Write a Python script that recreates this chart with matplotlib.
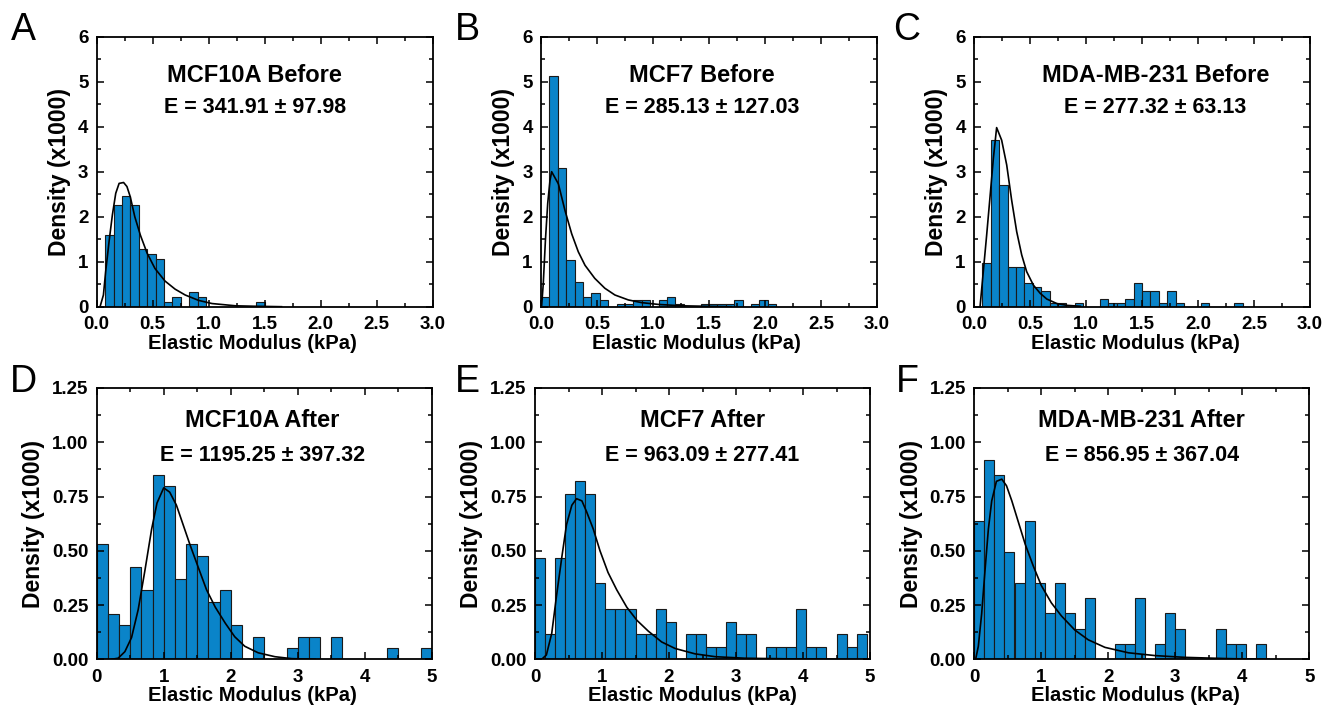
import numpy as np
import matplotlib
matplotlib.use("Agg")
import matplotlib.pyplot as plt
from matplotlib.ticker import MultipleLocator, FormatStrFormatter

plt.rcParams['font.family'] = ['Liberation Sans', 'DejaVu Sans']
plt.rcParams['font.weight'] = 'bold'

# ---- histogram densities (x1000) ----
bw_top = 0.075
dens_A = [0, 1.6, 2.25, 2.46, 2.25, 1.28, 1.17, 1.07, 0.107, 0.214, 0, 0.32, 0.214,
          0, 0, 0, 0, 0, 0, 0.107]
dens_B = [0.22, 5.12, 3.08, 1.04, 0.55, 0.22, 0.30, 0.15, 0, 0.07, 0.07, 0.15, 0.15, 0,
          0.15, 0.22, 0.07, 0, 0, 0.07, 0.07, 0.07, 0.07, 0.15, 0, 0.07, 0.15, 0.07]
dens_C = [0, 0.98, 3.70, 2.70, 0.89, 0.89, 0.53, 0.44, 0.36, 0.08, 0.08, 0, 0.08, 0, 0,
          0.18, 0.08, 0.08, 0.18, 0.53, 0.36, 0.36, 0.08, 0.36, 0.08, 0, 0, 0.08, 0, 0, 0, 0.08]

bw_D = 1 / 6
dens_D = [0.53, 0.21, 0.157, 0.424, 0.318, 0.85, 0.797, 0.37, 0.53, 0.476, 0.264, 0.318,
          0.157, 0, 0.104, 0, 0, 0.053, 0.104, 0.104, 0, 0.104, 0, 0, 0, 0, 0.053, 0, 0, 0.053]
bw_EF = 0.15
dens_E = [0.465, 0.115, 0.465, 0.76, 0.82, 0.76, 0.35, 0.232, 0.232, 0.232, 0.115, 0.115,
          0.232, 0.174, 0, 0.115, 0.115, 0.057, 0.057, 0.174, 0.115, 0.115, 0, 0.057, 0.057,
          0.057, 0.232, 0.057, 0.057, 0, 0.115, 0.057, 0.115]
dens_F = [0.637, 0.92, 0.85, 0.496, 0.353, 0.637, 0.353, 0.212, 0.353, 0.212, 0.141, 0.283,
          0, 0, 0.07, 0.07, 0.283, 0, 0.07, 0.212, 0.141, 0, 0, 0, 0.141, 0.07, 0.07, 0, 0.07]

# ---- fitted curves, points ----
fitA_x = [0.03, 0.06, 0.08, 0.11, 0.14, 0.17, 0.20, 0.24, 0.27, 0.30, 0.34, 0.39, 0.45,
          0.52, 0.61, 0.70, 0.79, 0.91, 1.03, 1.24, 1.41, 1.65]
fitA_y = [0, 0.26, 0.78, 1.44, 2.04, 2.52, 2.74, 2.76, 2.67, 2.44, 2.0, 1.59, 1.19,
          0.85, 0.57, 0.39, 0.26, 0.14, 0.07, 0.02, 0.01, 0.0]
fitB_x = [0.005, 0.02, 0.04, 0.06, 0.08, 0.095, 0.155, 0.214, 0.274, 0.333, 0.393, 0.48,
          0.57, 0.66, 0.78, 0.90, 1.05, 1.26, 1.46, 1.7]
fitB_y = [0, 0.5, 1.5, 2.3, 2.8, 3.0, 2.73, 2.14, 1.62, 1.22, 0.92, 0.63,
          0.41, 0.26, 0.15, 0.09, 0.05, 0.02, 0.01, 0.0]
fitC_x = [0.054, 0.083, 0.113, 0.143, 0.173, 0.202, 0.247, 0.292, 0.336, 0.381, 0.426,
          0.47, 0.53, 0.59, 0.65, 0.74, 0.83, 0.95]
fitC_y = [0, 0.78, 1.59, 2.44, 3.30, 3.98, 3.70, 3.15, 2.37, 1.67, 1.15,
          0.78, 0.48, 0.30, 0.17, 0.07, 0.03, 0.01]
fitD_x = [0.22, 0.32, 0.42, 0.52, 0.62, 0.72, 0.82, 0.90, 1.0, 1.09, 1.19, 1.29, 1.39,
          1.52, 1.64, 1.77, 1.92, 2.06, 2.21, 2.41, 2.66, 2.91, 3.26]
fitD_y = [0, 0.005, 0.035, 0.10, 0.23, 0.41, 0.60, 0.72, 0.79, 0.77, 0.71, 0.62, 0.53,
          0.42, 0.32, 0.24, 0.166, 0.104, 0.06, 0.03, 0.012, 0.003, 0]
fitE_x = [0.10, 0.17, 0.25, 0.32, 0.40, 0.47, 0.55, 0.62, 0.70, 0.77, 0.87, 0.97, 1.09,
          1.22, 1.37, 1.52, 1.69, 1.89, 2.09, 2.39, 2.69, 3.13, 3.8, 4.5]
fitE_y = [0, 0.02, 0.12, 0.29, 0.47, 0.62, 0.71, 0.74, 0.73, 0.68, 0.60, 0.50, 0.40,
          0.32, 0.24, 0.18, 0.13, 0.08, 0.05, 0.025, 0.012, 0.005, 0.002, 0]
fitF_x = [0.02, 0.06, 0.11, 0.16, 0.21, 0.26, 0.33, 0.41, 0.48, 0.56, 0.66, 0.76, 0.88,
          1.0, 1.15, 1.30, 1.50, 1.70, 1.95, 2.30, 2.70, 3.14, 3.8, 4.4]
fitF_y = [0, 0.06, 0.21, 0.41, 0.60, 0.73, 0.82, 0.83, 0.80, 0.73, 0.63, 0.53, 0.43,
          0.34, 0.26, 0.20, 0.135, 0.09, 0.055, 0.03, 0.017, 0.009, 0.003, 0]

names = ["MCF10A Before", "MCF7 Before", "MDA-MB-231 Before",
         "MCF10A After", "MCF7 After", "MDA-MB-231 After"]
stats = ["E = 341.91 \u00b1 97.98", "E = 285.13 \u00b1 127.03", "E = 277.32 \u00b1 63.13",
         "E = 1195.25 \u00b1 397.32", "E = 963.09 \u00b1 277.41", "E = 856.95 \u00b1 367.04"]
letters = ["A", "B", "C", "D", "E", "F"]

panels = [
    (dens_A, bw_top, fitA_x, fitA_y),
    (dens_B, bw_top, fitB_x, fitB_y),
    (dens_C, bw_top, fitC_x, fitC_y),
    (dens_D, bw_D, fitD_x, fitD_y),
    (dens_E, bw_EF, fitE_x, fitE_y),
    (dens_F, bw_EF, fitF_x, fitF_y),
]

W, H = 1323, 716
fig = plt.figure(figsize=(W / 100, H / 100), dpi=100)

# axes boxes in pixels: left, right, top, bottom
boxes = [(96.7, 432.7, 36.7, 306.7), (541, 877, 36.7, 306.7), (974, 1310, 36.7, 306.7),
         (96.7, 431.7, 388, 659.3), (535, 870, 388, 659.3), (974.3, 1309.3, 388, 659.3)]
text_x = [0.47, 0.48, 0.54, 0.495, 0.50, 0.50]
xlabel_x = [0.464, 0.462, 0.48, 0.465, 0.47, 0.48]
letter_pos = [(23, 30), (467, 30), (907, 30), (23, 382), (467, 382), (907, 382)]

bar_color = '#0A84C9'

for i, (dens, bw, fx, fy) in enumerate(panels):
    l, r, t, b = boxes[i]
    ax = fig.add_axes([l / W, 1 - b / H, (r - l) / W, (b - t) / H])
    edges = np.arange(len(dens)) * bw
    ax.bar(edges, dens, width=bw, align='edge', color=bar_color,
           edgecolor='#1a1a1a', linewidth=0.8)
    ax.plot(fx, fy, color='black', lw=1.2)

    top_row = i < 3
    if top_row:
        ax.set_xlim(0, 3)
        ax.set_ylim(0, 6)
        ax.xaxis.set_major_locator(MultipleLocator(0.5))
        ax.xaxis.set_minor_locator(MultipleLocator(0.25))
        ax.yaxis.set_major_locator(MultipleLocator(1))
        ax.yaxis.set_minor_locator(MultipleLocator(0.5))
        ax.xaxis.set_major_formatter(FormatStrFormatter('%.1f'))
        ty1, ty2 = 0.858, 0.736
    else:
        ax.set_xlim(0, 5)
        ax.set_ylim(0, 1.25)
        ax.xaxis.set_major_locator(MultipleLocator(1))
        ax.xaxis.set_minor_locator(MultipleLocator(0.5))
        ax.yaxis.set_major_locator(MultipleLocator(0.25))
        ax.yaxis.set_minor_locator(MultipleLocator(0.125))
        ax.yaxis.set_major_formatter(FormatStrFormatter('%.2f'))
        ty1, ty2 = 0.882, 0.753

    ax.tick_params(which='both', direction='in', top=True, right=True,
                   labelsize=13.5, width=1.1)
    ax.tick_params(axis='x', pad=7)
    ax.tick_params(axis='y', pad=6)
    ax.tick_params(which='major', length=5)
    ax.tick_params(which='minor', length=3)
    for lab in ax.get_xticklabels() + ax.get_yticklabels():
        lab.set_fontweight('bold')
    for s in ax.spines.values():
        s.set_linewidth(1.3)

    ax.set_xlabel("Elastic Modulus (kPa)", fontsize=14.6, fontweight='bold')
    ax.xaxis.set_label_coords(xlabel_x[i], -0.1 if top_row else -0.098)
    ax.set_ylabel("Density (x1000)", fontsize=16.5, fontweight='bold', labelpad=5)

    ax.text(text_x[i], ty1, names[i], transform=ax.transAxes, ha='center', va='center',
            fontsize=17, fontweight='bold')
    ax.text(text_x[i], ty2, stats[i], transform=ax.transAxes, ha='center', va='center',
            fontsize=15.5, fontweight='bold')

    lx, ly = letter_pos[i]
    fig.text(lx / W, 1 - ly / H, letters[i], ha='center', va='center',
             fontsize=27, fontweight='normal')

fig.savefig("out.png", dpi=100)
